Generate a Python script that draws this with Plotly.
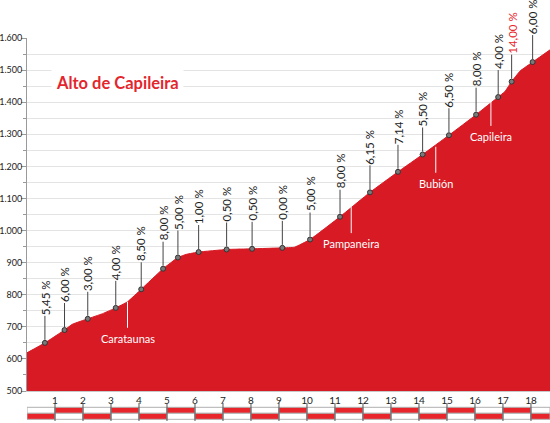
import plotly.graph_objects as go

# ---------------- data ----------------
profile_km = [0, 0.64, 1.34, 1.62, 2.17, 2.7, 3.17, 3.59, 4.08, 4.86, 5.39, 5.7, 6.13,
              7.13, 8.04, 9.12, 9.55, 10.11, 11.18, 12.25, 13.25, 14.13, 15.07, 16.04,
              16.83, 17.07, 17.31, 17.61, 18.06, 18.68]
profile_elev = [619, 650, 690, 708, 725, 741, 759, 778, 817, 881, 916, 926, 933,
                941, 943, 946, 948, 972, 1043, 1119, 1183, 1237, 1297, 1361,
                1416, 1433, 1464, 1497, 1525, 1563]

grade_km = [0.64, 1.34, 2.17, 3.17, 4.08, 4.86, 5.39, 6.13, 7.13, 8.04, 9.12, 10.11,
            11.18, 12.25, 13.25, 14.13, 15.07, 16.04, 16.83, 17.31, 18.06]
grade_elev = [650, 690, 725, 759, 817, 881, 916, 933, 941, 943, 946, 972,
              1043, 1119, 1183, 1237, 1297, 1361, 1416, 1464, 1525]
grade_labels = ["5,45 %", "6,00 %", "3,00 %", "4,00 %", "8,50 %", "8,00 %", "5,00 %",
                "1,00 %", "0,50 %", "0,50 %", "0,00 %", "5,00 %", "8,00 %", "6,15 %",
                "7,14 %", "5,50 %", "6,50 %", "8,00 %", "4,00 %", "14,00 %", "6,00 %"]

town_names = ["Carataunas", "Pampaneira", "Bubión", "Capileira"]
town_km = [3.59, 11.58, 14.6, 16.57]
town_elev = [778, 1073, 1261, 1407]

y_tickvals = [500, 600, 700, 800, 900, 1000, 1100, 1200, 1300, 1400, 1500, 1600]
y_ticktext = ["500", "600", "700", "800", "900", "1.000", "1.100", "1.200",
              "1.300", "1.400", "1.500", "1.600"]
x_tickvals = list(range(1, 19))
x_ticktext = [str(v) for v in x_tickvals]

title_text = "Alto de Capileira"

# ---------------- style ----------------
FONT = "Lato, 'Open Sans', sans-serif"
RED = "#d81a24"
BAR_RED = "#e8252b"
TEXT = "#222222"
X_MAX = 18.68
Y_MIN, Y_MAX = 500, 1600
LEADER = 27   # px between marker and its grade label
TOWN_LEADER = 26


def to_paper(v):
    return (v - Y_MIN) / (Y_MAX - Y_MIN)


fig = go.Figure()

fig.add_trace(go.Scatter(
    x=profile_km, y=profile_elev, mode="lines",
    line=dict(color=RED, width=1, shape="spline", smoothing=0.3),
    fill="tozeroy", fillcolor=RED, hoverinfo="skip", showlegend=False,
))

fig.add_trace(go.Scatter(
    x=grade_km, y=grade_elev, mode="markers",
    marker=dict(size=5, color="#7a7a7a", line=dict(color="#333333", width=1)),
    hoverinfo="skip", showlegend=False, cliponaxis=False,
))

annotations = []
shapes = []
for km, el, lab in zip(grade_km, grade_elev, grade_labels):
    col = "#e8252b" if lab.startswith("14") else TEXT
    shapes.append(dict(
        type="line", xref="x", yref="paper", ysizemode="pixel",
        yanchor=to_paper(el), x0=km, x1=km, y0=3, y1=LEADER,
        line=dict(color="#444444", width=1), layer="above",
    ))
    annotations.append(dict(
        x=km, y=el, xref="x", yref="y", text=lab, textangle=-90,
        showarrow=False, yanchor="bottom", xanchor="center", yshift=LEADER,
        font=dict(family=FONT, size=11.5, color=col), borderpad=0,
    ))

for name, km, el in zip(town_names, town_km, town_elev):
    shapes.append(dict(
        type="line", xref="x", yref="paper", ysizemode="pixel",
        yanchor=to_paper(el), x0=km, x1=km, y0=0, y1=-TOWN_LEADER,
        line=dict(color="#ffffff", width=1), layer="above",
    ))
    annotations.append(dict(
        x=km, y=el, xref="x", yref="y", text=name,
        showarrow=False, yanchor="top", xanchor="center", yshift=-(TOWN_LEADER + 2),
        font=dict(family=FONT, size=11, color="#ffffff"), borderpad=1,
    ))

annotations.append(dict(
    x=0.173, y=0.872, xref="paper", yref="paper", text="<b>%s</b>" % title_text,
    showarrow=False, xanchor="center", yanchor="middle",
    font=dict(family=FONT, size=16.5, color="#e3262d"),
    bgcolor="#ffffff", borderpad=4,
))

# distance bar below the axis
row_top = (-0.0462, -0.0632)
row_bot = (-0.0632, -0.0802)
k = 0
while k < X_MAX:
    x1 = min(k + 1, X_MAX)
    top_col = BAR_RED if k % 2 == 1 else "#ffffff"
    bot_col = "#ffffff" if k % 2 == 1 else BAR_RED
    shapes.append(dict(type="rect", xref="x", yref="paper", x0=k, x1=x1,
                       y0=row_top[1], y1=row_top[0], fillcolor=top_col,
                       line=dict(color="#b0b0b0", width=1), layer="above"))
    shapes.append(dict(type="rect", xref="x", yref="paper", x0=k, x1=x1,
                       y0=row_bot[1], y1=row_bot[0], fillcolor=bot_col,
                       line=dict(color="#b0b0b0", width=1), layer="above"))
    k += 1
for v in x_tickvals:
    shapes.append(dict(type="line", xref="x", yref="paper", x0=v, x1=v,
                       y0=-0.085, y1=-0.034, line=dict(color="#555555", width=1),
                       layer="above"))

fig.update_layout(
    width=550, height=423,
    margin=dict(l=27, r=0, t=38, b=32, pad=0, autoexpand=False),
    paper_bgcolor="#ffffff", plot_bgcolor="#ffffff",
    font=dict(family=FONT, size=10, color=TEXT),
    showlegend=False,
    annotations=annotations,
    shapes=shapes,
    xaxis=dict(
        range=[0, X_MAX], tickvals=x_tickvals, ticktext=x_ticktext,
        showgrid=False, zeroline=False, showline=True, linecolor="#c8c8c8",
        linewidth=1, ticks="", tickfont=dict(family=FONT, size=10, color=TEXT),
        fixedrange=True, automargin=False,
    ),
    yaxis=dict(
        range=[Y_MIN, Y_MAX], tickvals=y_tickvals, ticktext=y_ticktext,
        showgrid=True, gridcolor="#e4e4e4", gridwidth=1, zeroline=False,
        showline=True, linecolor="#9a9a9a", linewidth=1,
        ticks="outside", ticklen=5, tickcolor="#9a9a9a",
        ticklabelstandoff=-3,
        tickfont=dict(family=FONT, size=9, color=TEXT),
        minor=dict(dtick=50, tick0=500, showgrid=True, gridcolor="#e4e4e4",
                   ticks="outside", ticklen=3, tickcolor="#9a9a9a"),
        fixedrange=True, automargin=False,
    ),
)

fig.write_html(
    "out.html",
    config={"displayModeBar": False, "responsive": False},
    post_script="document.body.style.margin='0';document.body.style.overflow='hidden';",
)
